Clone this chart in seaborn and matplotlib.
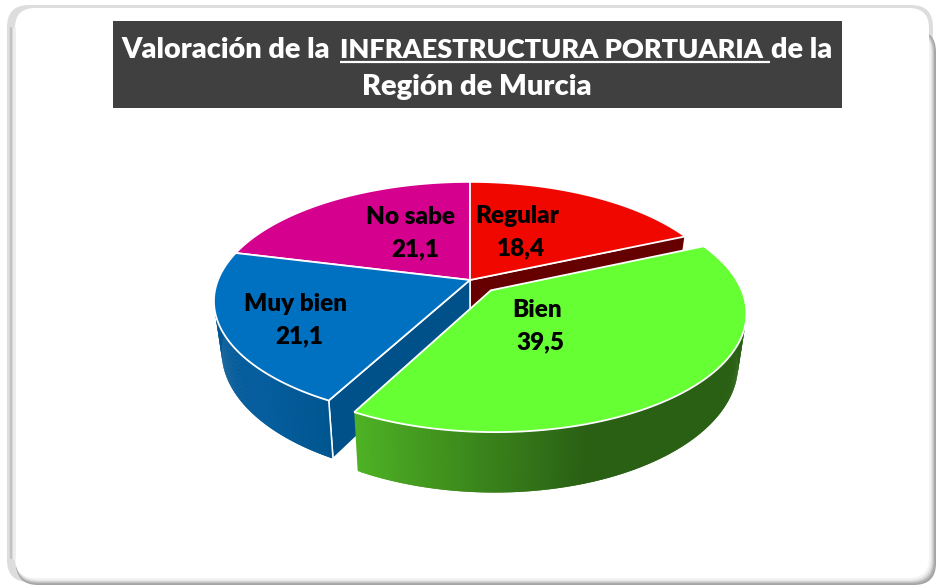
import numpy as np
import matplotlib
matplotlib.use('Agg')
import matplotlib.pyplot as plt
import seaborn as sns
from matplotlib.collections import PolyCollection
from matplotlib.patches import FancyBboxPatch, Polygon, Rectangle

categories = ['Regular', 'Bien', 'Muy bien', 'No sabe']
values = [18.4, 39.5, 21.1, 21.1]
value_labels = ['18,4', '39,5', '21,1', '21,1']
top_colors = ['#F00800', '#66FF33', '#0070C0', '#D6008E']
cut_colors = ['#660000', '#2A6014', '#00508A', '#8A005C']
# wall gradient, from the clockwise start of the slice to its end
wall_stops = [[0, 1], [0, 0.68, 1], [0, 0.25, 0.8], [0, 1]]
wall_colors = [['#660000', '#660000'],
               ['#2A6014', '#2A6014', '#4EB224'],
               ['#00568F', '#065E9F', '#00558F'],
               ['#8A005C', '#8A005C']]
explode = [0, 0.12, 0, 0]
radius = [1, 0.98, 1, 1]
draw_order = [3, 0, 2, 1]
# which straight cut of a slice faces the viewer (0 = start, -1 = end)
cut_faces = [[-1], [], [0], []]

title_parts = ['Valoración de la', 'INFRAESTRUCTURA PORTUARIA', 'de la']
title_second = 'Región de Murcia'

# label anchor of each slice, in the same order as categories
name_pos = [(517, 216), (537, 310), (296, 304), (411, 217)]
value_pos = [(521, 248), (540, 342), (299, 336), (415, 249)]

CX, CY = 470, 280
A, B, P = 252, 115.5, 0.177
DEPTH = 49


def project(theta, r, ex, ey, low=False):
    u = r * np.sin(theta) + ex
    v = r * np.cos(theta) + ey
    s = 1 / (1 + P * v)
    x = CX + A * u * s
    y = CY - B * v * s
    if low:
        x = CX + (x - CX) * 0.97
        y = y + DEPTH * s
    return np.column_stack([x, y])


def mix(frac, stops, colors):
    rgb = np.array(sns.color_palette(colors))
    return [np.interp(frac, stops, rgb[:, k]) for k in range(3)]


def round_box(ax, left, top, right, bottom, color, rad=22):
    ax.add_patch(FancyBboxPatch((left, top), right - left, bottom - top,
                                boxstyle=f'round,pad=0,rounding_size={rad}', fc=color, ec='none'))


sns.set_theme(style='white')
plt.rcParams['font.family'] = ['Lato', 'DejaVu Sans']

fig = plt.figure(figsize=(9.36, 5.85), dpi=100)
ax = fig.add_axes([0, 0, 1, 1])
ax.set_xlim(0, 936)
ax.set_ylim(585, 0)
ax.axis('off')

# slide frame
round_box(ax, 7, 5, 933, 582, '#DDDDDD')
shadow = ['#A4A4A4', '#ABABAB', '#C0C0C0', '#D6D6D6', '#E6E6E6', '#F3F3F3']
for d, col in enumerate(shadow):
    round_box(ax, 16, 30, 936 - d, 585 - d, col)
round_box(ax, 15, 8, 929, 578, 'white', rad=20)
ax.plot([10.5, 10.5], [28, 558], color='#C2C2C2', lw=1.6)
ax.plot([13.5, 13.5], [28, 558], color='#EDEDED', lw=2)

# title box
ax.add_patch(Rectangle((113, 21), 729, 87, fc='#404040', ec='none'))
tkw = dict(color='white', fontweight='heavy', va='baseline')
ax.text(121, 58, title_parts[0], fontsize=20.8, **tkw)
ax.text(340, 58, title_parts[1], fontsize=19.5, **tkw)
ax.text(771, 58, title_parts[2], fontsize=20.8, **tkw)
ax.plot([340, 770], [62, 62], color='white', lw=1.6, solid_capstyle='butt')
ax.text(477, 95, title_second, ha='center', fontsize=21, **tkw)

# pie, slices measured clockwise from twelve o'clock
edges = np.radians(np.concatenate([[0], np.cumsum(values)]) / np.sum(values) * 360)
for i in draw_order:
    t0, t1 = edges[i], edges[i + 1]
    mid = (t0 + t1) / 2
    ex, ey = explode[i] * np.sin(mid), explode[i] * np.cos(mid)
    theta = np.linspace(t0, t1, 240)
    top = project(theta, radius[i], ex, ey)
    low = project(theta, radius[i], ex, ey, low=True)
    apex = project(np.array([0.0]), 0, ex, ey)
    apex_low = project(np.array([0.0]), 0, ex, ey, low=True)

    for k in cut_faces[i]:
        ax.add_patch(Polygon([apex[0], top[k], low[k], apex_low[0]], closed=True,
                             fc=cut_colors[i], ec='white', lw=1.1))

    # each quad overlaps the next one so no seams show
    quads = [[top[k], top[k + 2], low[k + 2], low[k]] for k in range(len(theta) - 2)]
    fracs = (np.arange(len(quads)) + 0.5) / len(quads)
    cols = [mix(f, wall_stops[i], wall_colors[i]) for f in fracs]
    ax.add_collection(PolyCollection(quads, facecolors=cols, edgecolors='none'))

    for k in cut_faces[i]:
        ax.plot([top[k][0], low[k][0]], [top[k][1], low[k][1]], color='white', lw=1.1, zorder=1)

    ax.add_patch(Polygon(np.vstack([apex, top]), closed=True, fc=top_colors[i], ec='white',
                         lw=1.3, joinstyle='miter'))

for name, val, p, q in zip(categories, value_labels, name_pos, value_pos):
    ax.text(p[0], p[1], name, ha='center', va='center', fontsize=17.5, fontweight='heavy', color='black')
    ax.text(q[0], q[1], val, ha='center', va='center', fontsize=17.5, fontweight='heavy', color='black')

fig.savefig('out.png', dpi=100)
plt.close(fig)
